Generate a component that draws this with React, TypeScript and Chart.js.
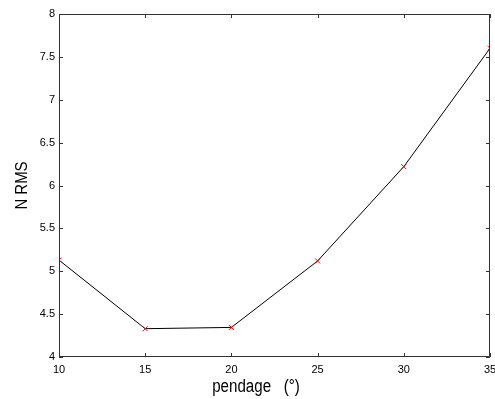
import React, { useEffect, useRef } from "react";
import { Chart, registerables } from "chart.js";

Chart.register(...registerables);

// dip angle (degrees) and normalised RMS
const pendage = [10, 15, 20, 25, 30, 35];
const nRms = [5.13, 4.33, 4.345, 5.12, 6.22, 7.6];

const xTicks = [10, 15, 20, 25, 30, 35];
const yTicks = [4, 4.5, 5, 5.5, 6, 6.5, 7, 7.5, 8];

const xTitle = "pendage   (°)";
const yTitle = "N RMS";

const TICK_LEN = 4;

// Boxed frame with inward ticks on all four sides, plus axis titles
const framePlugin = {
  id: "frameTicks",
  afterDraw(chart: any) {
    const { ctx, chartArea, scales } = chart;
    const { left, right, top, bottom } = chartArea;
    ctx.save();
    ctx.strokeStyle = "#333";
    ctx.lineWidth = 1;
    ctx.beginPath();
    ctx.rect(Math.round(left) + 0.5, Math.round(top) + 0.5, Math.round(right - left) - 1, Math.round(bottom - top) - 1);
    ctx.stroke();

    ctx.beginPath();
    for (const v of xTicks) {
      const px = Math.round(scales.x.getPixelForValue(v)) + 0.5;
      ctx.moveTo(px, bottom);
      ctx.lineTo(px, bottom - TICK_LEN);
      ctx.moveTo(px, top);
      ctx.lineTo(px, top + TICK_LEN);
    }
    for (const v of yTicks) {
      const py = Math.round(scales.y.getPixelForValue(v)) + 0.5;
      ctx.moveTo(left, py);
      ctx.lineTo(left + TICK_LEN, py);
      ctx.moveTo(right, py);
      ctx.lineTo(right - TICK_LEN, py);
    }
    ctx.stroke();

    // axis titles in a condensed face
    ctx.fillStyle = "#000";
    ctx.textAlign = "center";
    ctx.textBaseline = "alphabetic";
    ctx.save();
    ctx.translate(256, 392);
    ctx.scale(0.84, 1);
    ctx.font = '18px "Liberation Sans", Arial, sans-serif';
    ctx.fillText(xTitle, 0, 0);
    ctx.restore();

    ctx.save();
    ctx.translate(27, (top + bottom) / 2);
    ctx.rotate(-Math.PI / 2);
    ctx.scale(0.88, 1);
    ctx.font = '17px "Liberation Sans", Arial, sans-serif';
    ctx.fillText(yTitle, 0, 0);
    ctx.restore();
    ctx.restore();
  },
};

export default function App() {
  const canvasRef = useRef<HTMLCanvasElement | null>(null);

  useEffect(() => {
    if (!canvasRef.current) return;
    const tickFont = { family: '"Liberation Sans", Arial, sans-serif', size: 11 };
    const chart = new Chart(canvasRef.current, {
      type: "line",
      data: {
        datasets: [
          {
            data: pendage.map((x, i) => ({ x, y: nRms[i] })),
            borderColor: "#000",
            borderWidth: 1,
            pointStyle: "crossRot",
            pointRadius: 3.5,
            pointBorderColor: "#ff0000",
            pointBorderWidth: 1,
            pointBackgroundColor: "#ff0000",
            tension: 0,
          },
        ],
      },
      options: {
        responsive: false,
        animation: false,
        events: [],
        layout: { padding: { top: 14, right: 2, left: 0, bottom: 0 } },
        plugins: { legend: { display: false }, tooltip: { enabled: false } },
        scales: {
          x: {
            type: "linear",
            min: 10,
            max: 35,
            grid: { display: false, drawTicks: false },
            border: { display: false },
            afterBuildTicks: (s: any) => {
              s.ticks = xTicks.map((v) => ({ value: v }));
            },
            afterFit: (s: any) => {
              s.height = 42;
              s.paddingLeft = 0;
              s.paddingRight = 0;
            },
            ticks: {
              color: "#000",
              font: tickFont,
              padding: 6,
              maxRotation: 0,
              autoSkip: false,
              callback: (v: any) => String(v),
            },
          },
          y: {
            type: "linear",
            min: 4,
            max: 8,
            grid: { display: false, drawTicks: false },
            border: { display: false },
            afterBuildTicks: (s: any) => {
              s.ticks = yTicks.map((v) => ({ value: v }));
            },
            afterFit: (s: any) => {
              s.width = 59;
              s.paddingTop = 0;
              s.paddingBottom = 0;
            },
            ticks: {
              color: "#000",
              font: tickFont,
              padding: 4,
              autoSkip: false,
              callback: (v: any) => String(v),
            },
          },
        },
      },
      plugins: [framePlugin],
    });
    return () => chart.destroy();
  }, []);

  return (
    <div style={{ position: "fixed", left: 0, top: 0, width: 495, height: 399, background: "#fff" }}>
      <canvas ref={canvasRef} width={495} height={399} />
    </div>
  );
}
